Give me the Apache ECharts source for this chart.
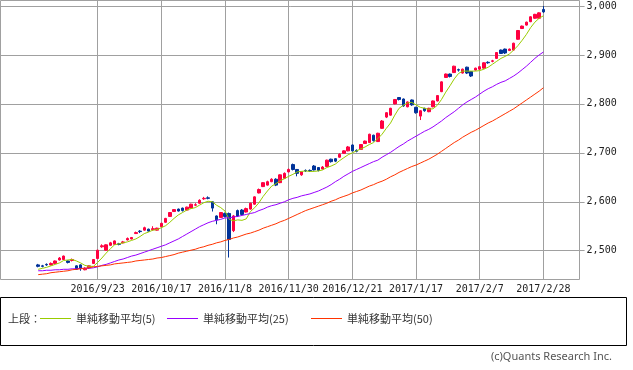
<!DOCTYPE html>
<html><head><meta charset="utf-8">
<script src="https://cdn.jsdelivr.net/npm/echarts@6/dist/echarts.min.js"></script>
<style>html,body{margin:0;padding:0;background:#fff}#c{width:633px;height:370px}</style>
</head><body><div id="c"></div>
<script>
const dates = [
'2016/9/1','2016/9/2','2016/9/5','2016/9/6','2016/9/7','2016/9/8','2016/9/9','2016/9/12','2016/9/13','2016/9/14',
'2016/9/15','2016/9/16','2016/9/20','2016/9/21','2016/9/23','2016/9/26','2016/9/27','2016/9/28','2016/9/29','2016/9/30',
'2016/10/3','2016/10/4','2016/10/5','2016/10/6','2016/10/7','2016/10/11','2016/10/12','2016/10/13','2016/10/14','2016/10/17',
'2016/10/18','2016/10/19','2016/10/20','2016/10/21','2016/10/24','2016/10/25','2016/10/26','2016/10/27','2016/10/28','2016/10/31',
'2016/11/1','2016/11/2','2016/11/4','2016/11/7','2016/11/8','2016/11/9','2016/11/10','2016/11/11','2016/11/14','2016/11/15',
'2016/11/16','2016/11/17','2016/11/18','2016/11/21','2016/11/22','2016/11/24','2016/11/25','2016/11/28','2016/11/29','2016/11/30',
'2016/12/1','2016/12/2','2016/12/5','2016/12/6','2016/12/7','2016/12/8','2016/12/9','2016/12/12','2016/12/13','2016/12/14',
'2016/12/15','2016/12/16','2016/12/19','2016/12/20','2016/12/21','2016/12/22','2016/12/26','2016/12/27','2016/12/28','2016/12/29',
'2016/12/30','2017/1/4','2017/1/5','2017/1/6','2017/1/10','2017/1/11','2017/1/12','2017/1/13','2017/1/16','2017/1/17',
'2017/1/18','2017/1/19','2017/1/20','2017/1/23','2017/1/24','2017/1/25','2017/1/26','2017/1/27','2017/1/30','2017/1/31',
'2017/2/1','2017/2/2','2017/2/3','2017/2/6','2017/2/7','2017/2/8','2017/2/9','2017/2/10','2017/2/13','2017/2/14',
'2017/2/15','2017/2/16','2017/2/17','2017/2/20','2017/2/21','2017/2/22','2017/2/23','2017/2/24','2017/2/27','2017/2/28'];

const openV = [
2471,2469,2472,2471,2474,2481,2482,2479,2480,2469,
2471,2461,2465,2474,2484,2508,2501,2511,2513,2514,
2516,2522,2524,2535,2540,2542,2544,2543,2542,2549,
2558,2570,2580,2585,2587,2583,2587,2593,2597,2606,
2608,2600,2571,2568,2576,2576,2541,2582,2583,2579,
2585,2595,2618,2631,2634,2641,2646,2639,2648,2661,
2676,2666,2655,2664,2664,2673,2670,2667,2672,2687,
2688,2691,2699,2704,2716,2705,2707,2719,2721,2736,
2723,2750,2773,2777,2800,2813,2810,2794,2808,2793,
2775,2791,2784,2794,2806,2825,2854,2861,2864,2870,
2863,2875,2866,2869,2871,2873,2885,2887,2893,2910,
2912,2909,2910,2932,2954,2961,2968,2975,2975,2993];
const closeV = [
2468,2468,2471,2474,2479,2485,2489,2476,2482,2462,
2464,2464,2469,2482,2501,2510,2512,2516,2520,2513,
2518,2525,2527,2537,2539,2547,2540,2545,2546,2556,
2566,2578,2584,2581,2582,2589,2595,2594,2603,2607,
2607,2587,2563,2578,2570,2523,2571,2571,2574,2586,
2597,2610,2625,2639,2641,2646,2634,2655,2658,2666,
2666,2658,2661,2663,2663,2665,2664,2671,2685,2682,
2683,2697,2704,2712,2704,2703,2717,2724,2738,2725,
2740,2765,2782,2791,2809,2809,2796,2804,2798,2782,
2786,2786,2791,2806,2817,2845,2861,2856,2877,2869,
2871,2863,2857,2873,2876,2884,2884,2888,2905,2903,
2904,2912,2924,2950,2959,2967,2978,2983,2986,2988];
const lowV = [
2466,2466,2469,2470,2473,2480,2481,2474,2478,2461,
2459,2460,2463,2473,2483,2506,2500,2510,2512,2511,
2515,2521,2523,2534,2536,2541,2539,2541,2541,2548,
2557,2569,2579,2580,2580,2582,2586,2591,2596,2604,
2605,2580,2554,2567,2568,2486,2538,2569,2572,2578,
2584,2594,2617,2630,2633,2640,2632,2638,2647,2660,
2664,2652,2653,2661,2661,2664,2662,2666,2671,2680,
2681,2690,2698,2703,2703,2701,2706,2718,2720,2723,
2722,2749,2771,2776,2799,2807,2794,2793,2796,2780,
2767,2784,2783,2793,2805,2824,2853,2854,2863,2866,
2862,2861,2855,2868,2870,2872,2882,2885,2892,2902,
2902,2908,2909,2931,2953,2960,2967,2974,2974,2986];
const highV = [
2473,2471,2474,2476,2480,2487,2490,2480,2484,2470,
2472,2466,2470,2483,2502,2513,2513,2518,2521,2516,
2520,2527,2528,2539,2542,2549,2545,2550,2547,2557,
2567,2579,2585,2586,2588,2590,2596,2597,2605,2610,
2611,2601,2572,2579,2578,2578,2573,2584,2585,2588,
2598,2611,2627,2640,2643,2648,2648,2656,2660,2668,
2678,2667,2662,2666,2666,2675,2671,2673,2686,2688,
2689,2699,2705,2714,2717,2707,2718,2725,2739,2737,
2741,2767,2783,2792,2810,2814,2811,2805,2809,2794,
2787,2792,2792,2807,2818,2846,2862,2862,2878,2872,
2872,2876,2867,2874,2877,2885,2887,2890,2906,2911,
2913,2913,2925,2951,2960,2968,2979,2984,2987,3000];

const ma5 = [
2462,2464,2466,2469,2472,2475,2480,2481,2482,2479,
2475,2470,2468,2468,2476,2485,2495,2504,2512,2514,
2516,2518,2521,2524,2529,2535,2538,2542,2543,2547,
2551,2558,2566,2573,2578,2583,2586,2588,2593,2598,
2601,2600,2593,2588,2581,2564,2561,2563,2562,2565,
2580,2588,2598,2611,2622,2632,2637,2643,2647,2652,
2656,2661,2662,2663,2662,2662,2663,2665,2670,2673,
2677,2684,2690,2696,2700,2704,2708,2712,2717,2721,
2729,2738,2750,2761,2777,2791,2797,2802,2803,2798,
2793,2791,2789,2790,2797,2809,2824,2837,2851,2862,
2867,2867,2867,2867,2868,2871,2875,2881,2887,2893,
2897,2902,2910,2919,2930,2942,2956,2967,2975,2980];
const ma25 = [
2459,2459,2460,2460,2461,2461,2462,2462,2463,2463,
2464,2464,2464,2465,2467,2470,2472,2475,2478,2481,
2483,2486,2489,2491,2494,2497,2500,2503,2506,2509,
2512,2516,2520,2524,2529,2534,2539,2544,2549,2553,
2557,2560,2562,2564,2567,2567,2569,2570,2572,2574,
2576,2578,2582,2585,2589,2592,2594,2597,2600,2604,
2607,2609,2612,2614,2616,2619,2622,2626,2630,2635,
2641,2646,2652,2657,2662,2666,2670,2674,2678,2682,
2685,2691,2696,2701,2707,2713,2718,2724,2729,2734,
2739,2744,2748,2753,2759,2765,2772,2778,2784,2791,
2798,2804,2809,2814,2820,2826,2831,2835,2840,2844,
2847,2852,2857,2863,2870,2877,2885,2893,2900,2906];
const ma50 = [
2451,2452,2453,2455,2456,2457,2458,2459,2461,2462,
2463,2464,2465,2467,2468,2469,2470,2471,2473,2474,
2475,2476,2477,2479,2480,2481,2482,2483,2485,2486,
2488,2490,2492,2495,2497,2499,2501,2503,2506,2508,
2511,2513,2516,2518,2521,2523,2526,2528,2531,2534,
2536,2539,2542,2546,2549,2552,2555,2559,2562,2566,
2570,2574,2578,2582,2585,2588,2591,2594,2597,2601,
2604,2608,2611,2614,2618,2621,2624,2628,2632,2635,
2639,2642,2646,2651,2655,2660,2664,2668,2672,2675,
2679,2683,2687,2692,2697,2703,2709,2715,2721,2726,
2732,2737,2742,2746,2751,2756,2761,2765,2770,2775,
2780,2785,2790,2796,2802,2808,2814,2820,2826,2833];

const yTicks = [2500, 2600, 2700, 2800, 2900, 3000];
const labelDates = ['2016/9/23','2016/10/17','2016/11/8','2016/11/30','2016/12/21','2017/1/17','2017/2/7','2017/2/28'];
const seriesNames = ['単純移動平均(5)', '単純移動平均(25)', '単純移動平均(50)'];
const seriesColors = ['#99cc00', '#9900ff', '#ff3300'];
const legendLead = '上段：';
const credit = '(c)Quants Research Inc.';

const PAD_L = 9, PAD_R = 9;
const cats = [];
for (let i = 0; i < PAD_L; i++) cats.push('');
dates.forEach(d => cats.push(d));
for (let i = 0; i < PAD_R; i++) cats.push('');
const pad = arr => Array(PAD_L).fill('-').concat(arr, Array(PAD_R).fill('-'));
const candleData = Array(PAD_L).fill(['-','-','-','-'])
  .concat(dates.map((d, i) => [openV[i], closeV[i], lowV[i], highV[i]]), Array(PAD_R).fill(['-','-','-','-']));
const showIdx = (idx) => labelDates.indexOf(cats[idx]) >= 0;

const gridCol = '#a0a0a0';
const chart = echarts.init(document.getElementById('c'), null, {renderer: 'canvas'});
const legendItems = [];
const lineX = [40, 167, 311];
seriesNames.forEach((n, k) => {
  legendItems.push({type: 'line', shape: {x1: lineX[k], y1: 318.5, x2: lineX[k] + 31, y2: 318.5}, style: {stroke: seriesColors[k], lineWidth: 1}});
  legendItems.push({type: 'text', x: lineX[k] + 36, y: 318.5, style: {text: n, fill: '#333', font: '11px "Noto Sans CJK JP"', verticalAlign: 'middle'}});
});
chart.setOption({
  animation: false,
  backgroundColor: '#fff',
  grid: {left: -1, top: 0, width: 582.6, height: 280, show: false},
  xAxis: {
    type: 'category', data: cats, boundaryGap: false,
    axisLine: {show: false}, axisTick: {show: false},
    axisLabel: {interval: (i) => showIdx(i), margin: 4, color: '#222', fontSize: 10, fontFamily: 'DejaVu Sans Mono'},
    splitLine: {show: true, interval: (i) => showIdx(i), lineStyle: {color: gridCol, width: 1}}
  },
  yAxis: {
    type: 'value', position: 'right', min: 2440.1, max: 3012.3, offset: -2,
    axisLine: {show: false},
    axisTick: {show: true, length: 5, lineStyle: {color: gridCol}, customValues: yTicks},
    axisLabel: {customValues: yTicks, margin: 7, color: '#222', fontSize: 10, fontFamily: 'DejaVu Sans Mono',
      formatter: v => v.toLocaleString('en-US')},
    splitLine: {show: true, lineStyle: {color: gridCol, width: 1}}
  },
  series: [
    {type: 'candlestick', data: candleData, barWidth: 3,
     itemStyle: {color: '#ff0040', color0: '#003399', borderColor: '#ff0040', borderColor0: '#003399', borderWidth: 1}},
    {type: 'line', name: seriesNames[0], data: pad(ma5), showSymbol: false, symbol: 'none', lineStyle: {color: seriesColors[0], width: 1}},
    {type: 'line', name: seriesNames[1], data: pad(ma25), showSymbol: false, symbol: 'none', lineStyle: {color: seriesColors[1], width: 1}},
    {type: 'line', name: seriesNames[2], data: pad(ma50), showSymbol: false, symbol: 'none', lineStyle: {color: seriesColors[2], width: 1}}
  ],
  graphic: [
    {type: 'rect', shape: {x: 0.5, y: 0.5, width: 579, height: 279}, style: {fill: 'none', stroke: gridCol, lineWidth: 1}, z: 100},
    {type: 'rect', shape: {x: 0.5, y: 297.5, width: 626, height: 48}, style: {fill: 'none', stroke: '#000', lineWidth: 1}},
    {type: 'text', x: 8, y: 318.5, style: {text: legendLead, fill: '#333', font: '11px "Noto Sans CJK JP"', verticalAlign: 'middle'}},
    ...legendItems,
    {type: 'text', x: 612, y: 357, style: {text: credit, fill: '#555', font: '11px "Noto Sans"', align: 'right', verticalAlign: 'middle'}}
  ]
});
</script>
</body></html>
